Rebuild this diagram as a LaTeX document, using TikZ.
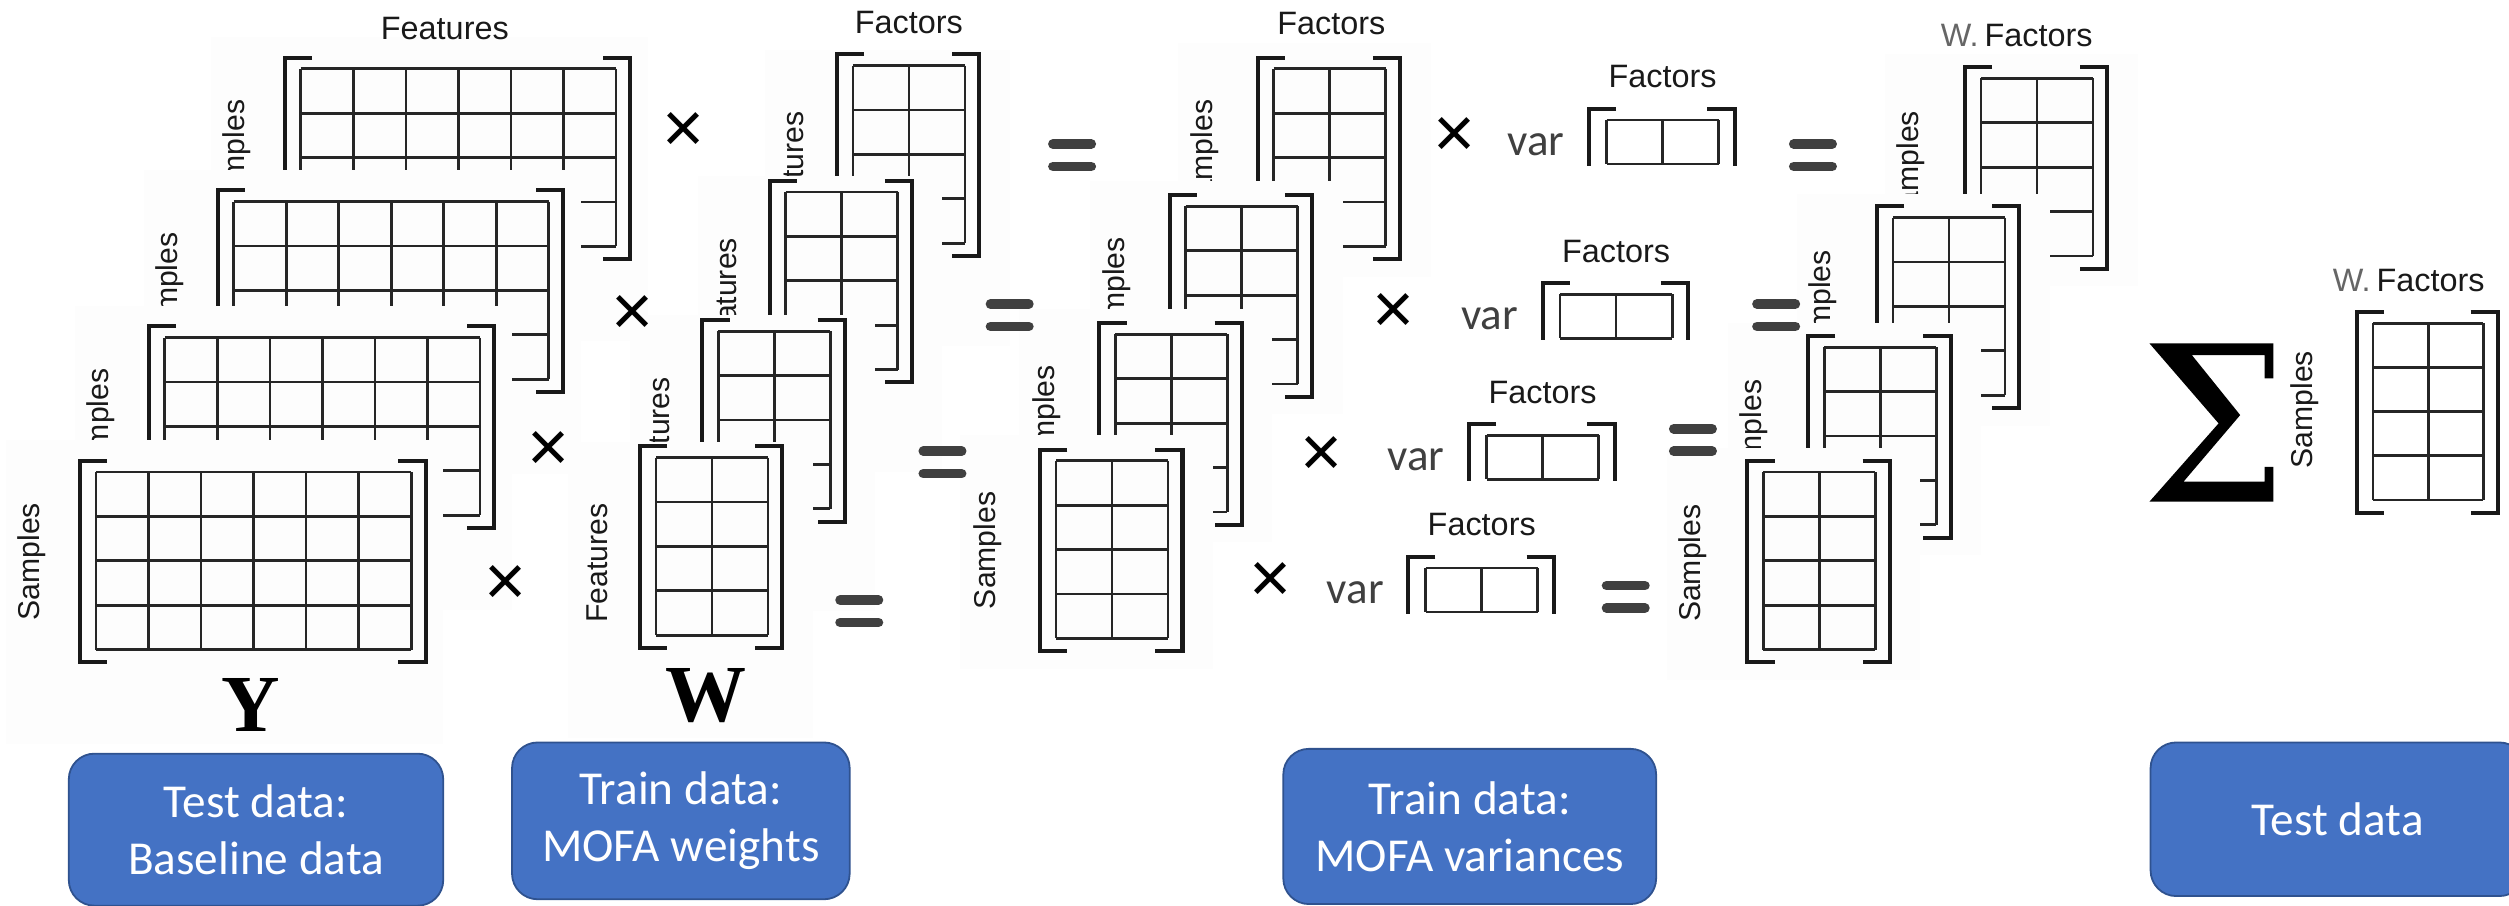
\documentclass[tikz,border=0pt]{standalone}
\usepackage{fontspec}
\setmainfont{Liberation Sans}
\newfontfamily\boxfont{Carlito}
\newfontfamily\letterfont{Liberation Serif}
\usepackage{tikz}
\usetikzlibrary{positioning}
\definecolor{boxblue}{HTML}{4472C4}
\definecolor{boxedge}{HTML}{2F528F}
\definecolor{signgray}{HTML}{404040}
\definecolor{wgray}{HTML}{666666}
\definecolor{panelbg}{HTML}{FDFDFD}
\tikzset{cellline/.style={line width=1.2pt,draw=black!85},
            bracketline/.style={line width=1.8pt,draw=black!90},
            panel/.style={fill=panelbg,draw=none},
            axislabel/.style={font=\fontsize{13.4}{15}\selectfont,inner sep=0pt,text=black!90},
            toplabel/.style={font=\fontsize{14.4}{16}\selectfont,inner sep=0pt,text=black!90},
            varlabel/.style={font=\boxfont\fontsize{20}{24}\selectfont,text=signgray,inner sep=0pt,anchor=base},
            timessign/.style={font=\fontsize{32}{36}\selectfont,inner sep=0pt},
            eqbar/.style={line width=1.5mm,line cap=round,draw=signgray},
            matname/.style={font=\letterfont\bfseries\fontsize{36}{40}\selectfont,inner sep=0pt,anchor=base},
            databox/.style={rounded corners=4mm,fill=boxblue,draw=boxedge,line width=0.8pt,text=white,align=center,font=\boxfont\fontsize{21}{25.5}\selectfont},
            }
% grid of cells with square brackets; #1,#2 top left corner, #3 cols, #4 rows, #5/#6 cell size
\newcommand{\gridmat}[6]{%
  \begin{scope}[shift={(#1,#2)}]
    \foreach \c in {0,...,#3}
      \draw[cellline] ({\c*#5},0) -- ({\c*#5},{#4*#6});
    \foreach \r in {0,...,#4}
      \draw[cellline] (0,{\r*#6}) -- ({#3*#5},{\r*#6});
    \draw[bracketline] (7,-7) -- (-10,-7) -- (-10,{#4*#6+8}) -- (7,{#4*#6+8});
    \draw[bracketline] ({#3*#5-8},-7) -- ({#3*#5+9},-7) -- ({#3*#5+9},{#4*#6+8}) -- ({#3*#5-8},{#4*#6+8});
  \end{scope}}
% one row of two variances, cut off below
\newcommand{\varmat}[2]{%
  \begin{scope}[shift={(#1,#2)}]
    \foreach \c in {0,1,2}
      \draw[cellline] ({\c*35},0) -- ({\c*35},27.5);
    \draw[cellline] (0,0) -- (70,0) (0,27.5) -- (70,27.5);
    \draw[bracketline] (6,-7) -- (-11,-7) -- (-11,28.5);
    \draw[bracketline] (63,-7) -- (80,-7) -- (80,28.5);
  \end{scope}}
\newcommand{\eqsign}[2]{\draw[eqbar] ({#1-12},{#2-7}) -- ({#1+12},{#2-7}) ({#1-12},{#2+7}) -- ({#1+12},{#2+7});}

\begin{document}
\begin{tikzpicture}[x=0.25mm,y=-0.25mm]
    \useasboundingbox (0,0) rectangle (1568,566);

    % Y: samples x features, back to front
    \foreach \i/\gx/\gy in {1/188/43, 2/146/126, 3/103/211, 4/60/295} {
        \fill[panel] ({\gx-56},{\gy-20}) rectangle ({\gx+217},{\gy+170});
        \gridmat{\gx}{\gy}{6}{4}{32.83}{27.75}
        \node[axislabel,rotate=90] (ysamp\i) at ({\gx-40},{\gy+56}) {Samples};
    }
    \node[toplabel] (yfeat) at (278,18) {Features};
    \node[matname] (yname) at (157,457) {Y};

    % W: features x factors
    \foreach \i/\gx/\gy in {1/533/41, 2/491/120, 3/449/207, 4/410/286} {
        \fill[panel] ({\gx-55},{\gy-10}) rectangle ({\gx+98},{\gy+175});
        \gridmat{\gx}{\gy}{2}{4}{35}{27.75}
        \node[axislabel,rotate=90] (wfeat\i) at ({\gx-37},{\gy+66}) {Features};
    }
    \node[toplabel] (wfac) at (568,14) {Factors};
    \node[matname] (wname) at (441,451) {W};

    % samples x factors
    \foreach \i/\gx/\gy in {1/796/43, 2/741/129, 3/697/209, 4/660/288} {
        \fill[panel] ({\gx-60},{\gy-16}) rectangle ({\gx+98},{\gy+130});
        \gridmat{\gx}{\gy}{2}{4}{35}{27.75}
        \node[axislabel,rotate=90] (fsamp\i) at ({\gx-43},{\gy+56}) {Samples};
    }
    \node[toplabel] (ffac) at (832,15) {Factors};

    % variances
    \foreach \i/\gx/\gy in {1/1004/75, 2/975/184, 3/929/272, 4/891/355} {
        \varmat{\gx}{\gy}
        \node[varlabel] (var\i) at ({\gx-44},{\gy+22}) {var};
        \node[toplabel] (vfac\i) at ({\gx+35},{\gy-27}) {Factors};
    }

    % weighted factors
    \foreach \i/\gx/\gy in {1/1238/49, 2/1183/136, 3/1140/217, 4/1102/295} {
        \fill[panel] ({\gx-60},{\gy-15}) rectangle ({\gx+98},{\gy+130});
        \gridmat{\gx}{\gy}{2}{4}{35}{27.75}
        \node[axislabel,rotate=90] (rsamp\i) at ({\gx-44},{\gy+57}) {Samples};
    }
    \node[toplabel] (rfac) at (1274,22) {Factors};
    \node[toplabel,text=wgray,anchor=base east] (rw) at ([xshift=-0.8mm]rfac.base west) {W.};

    % sum over the stack
    \fill (1343.3,214.6) -- (1420.8,214.6) -- (1420.8,236.5) -- (1415.2,236.5) -- (1415.2,221.9)
        -- (1369.8,221.9) -- (1400,259.4) -- (1364.6,301) -- (1415.2,301) -- (1415.2,291.7)
        -- (1420.8,291.7) -- (1420.8,313.5) -- (1343.3,313.5) -- (1386.5,264.6) -- cycle;
    \gridmat{1483}{202}{2}{4}{34.5}{27.6}
    \node[axislabel,rotate=90] (ssamp) at (1440.6,256) {Samples};
    \node[toplabel] (sfac) at (1519,175) {Factors};
    \node[toplabel,text=wgray,anchor=base east] (sw) at ([xshift=-0.8mm]sfac.base west) {W.};

    % operators
    \foreach \i/\px/\py in {1/427/83, 2/395/197, 3/343/282, 4/316/366}
        \node[timessign] (ytimes\i) at (\px,\py) {×};
    \foreach \i/\px/\py in {1/909/86, 2/871/196, 3/826/285, 4/794/364}
        \node[timessign] (ftimes\i) at (\px,\py) {×};
    \foreach \px/\py in {670/97, 631/197, 589/289, 537/382, 1133/97, 1110/197, 1058/275, 1016/373} {
        \eqsign{\px}{\py}
    }

    % data sources
    \node[databox,minimum width=58.5mm,minimum height=23.75mm] (testbase) at (160,518.5) {Test data:\\Baseline data};
    \node[databox,minimum width=52.75mm,minimum height=24.5mm] (trainw) at (425.5,513) {Train data:\\MOFA weights};
    \node[databox,minimum width=58.25mm,minimum height=24.25mm] (trainvar) at (918.5,516.5) {Train data:\\MOFA variances};
    \node[databox,minimum width=58.5mm,minimum height=24mm] (testres) at (1461,512) {Test data};

\end{tikzpicture}
\end{document}
